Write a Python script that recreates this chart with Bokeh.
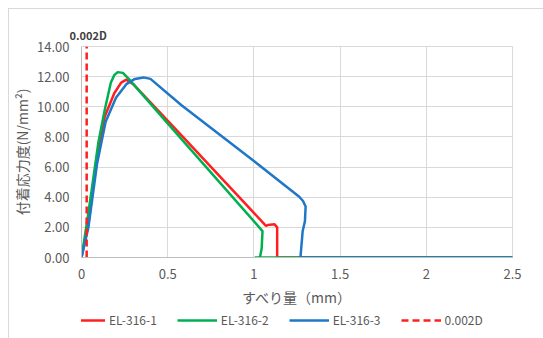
from bokeh.plotting import figure
from bokeh.layouts import column
from bokeh.models import FixedTicker, NumeralTickFormatter, Legend, LegendItem, Title
from bokeh.embed import file_html
from bokeh.resources import INLINE

# ---- data ----
x_ticks = [0, 0.5, 1, 1.5, 2, 2.5]
x_tick_labels = ["0", "0.5", "1", "1.5", "2", "2.5"]
y_ticks = [0, 2, 4, 6, 8, 10, 12, 14]

el1_x = [0, 0.04, 0.087, 0.135, 0.19, 0.23, 0.26, 0.30, 0.58, 1.07, 1.08, 1.12, 1.135, 1.135, 2.5]
el1_y = [0, 2.2, 6.5, 9.35, 10.9, 11.6, 11.8, 11.5, 8.1, 2.1, 2.15, 2.2, 2.0, 0, 0]

el2_x = [0, 0.03, 0.058, 0.098, 0.135, 0.17, 0.19, 0.21, 0.24, 0.27, 0.58, 1.05, 1.045, 1.035, 1.005, 2.5]
el2_y = [0, 2.2, 4.4, 7.65, 9.8, 11.6, 12.1, 12.3, 12.25, 11.9, 7.85, 1.75, 0.6, 0, 0, 0]

el3_x = [0, 0.04, 0.09, 0.14, 0.2, 0.26, 0.31, 0.36, 0.40, 0.58, 1.0, 1.263, 1.285, 1.30, 1.296, 1.283, 1.27, 2.5]
el3_y = [0, 2.0, 6.2, 9.0, 10.6, 11.5, 11.85, 11.95, 11.85, 10.1, 6.4, 4.03, 3.75, 3.38, 2.4, 1.76, 0, 0]

d_x = [0.03, 0.03]
d_y = [0, 14]

series_names = ["EL-316-1", "EL-316-2", "EL-316-3", "0.002D"]
series_colors = ["#ff1f1f", "#00b050", "#1f77c8", "#ff1f1f"]
series_dash = ["solid", "solid", "solid", "7 4"]
x_label = "すべり量（mm）"
y_label = "付着応力度(N/mm²)"

JP = "Noto Sans CJK JP"
TXT = "#595959"
GRID = "#d9d9d9"

p = figure(width=534, height=300, x_range=(0, 2.5), y_range=(0, 14),
           output_backend="svg", toolbar_location=None,
           min_border_left=71, min_border_right=31, min_border_top=37, min_border_bottom=49)
p.background_fill_color = "white"
p.border_fill_color = "white"
p.outline_line_color = GRID

p.xaxis.ticker = FixedTicker(ticks=x_ticks)
p.xaxis.major_label_overrides = {t: l for t, l in zip(x_ticks, x_tick_labels)}
p.yaxis.ticker = FixedTicker(ticks=y_ticks)
p.yaxis.formatter = NumeralTickFormatter(format="0.00")
p.xgrid.ticker = FixedTicker(ticks=x_ticks)
p.ygrid.ticker = FixedTicker(ticks=y_ticks)
p.grid.grid_line_color = GRID
p.grid.grid_line_width = 1

for ax in (p.xaxis, p.yaxis):
    ax.major_tick_line_color = None
    ax.minor_tick_line_color = None
    ax.axis_line_color = "#bfbfbf"
    ax.major_label_text_color = TXT
    ax.major_label_text_font = JP
    ax.major_label_text_font_size = "13px"
    ax.axis_label_text_color = TXT
    ax.axis_label_text_font = JP
    ax.axis_label_text_font_size = "14px"
    ax.axis_label_text_font_style = "normal"

p.xaxis.axis_label = x_label
p.yaxis.axis_label = y_label
p.xaxis.major_label_standoff = 5
p.xaxis.axis_label_standoff = 5
p.yaxis.major_label_standoff = 6
p.yaxis.axis_label_standoff = 2

xs = [el1_x, el2_x, el3_x, d_x]
ys = [el1_y, el2_y, el3_y, d_y]
for i in range(4):
    p.line(xs[i], ys[i], line_color=series_colors[i], line_width=2.5, line_dash=series_dash[i])

t = Title(text=series_names[3], align="left", offset=-12, standoff=8,
          text_font=JP, text_font_size="11px", text_font_style="bold", text_color="#404040")
p.add_layout(t, "above")

# legend strip below the chart (series drawn outside its view; only the legend shows)
lf = figure(width=534, height=29, x_range=(100, 101), y_range=(100, 101),
            output_backend="svg", toolbar_location=None,
            x_axis_type=None, y_axis_type=None,
            min_border_left=0, min_border_right=0, min_border_top=0, min_border_bottom=0)
lf.outline_line_color = None
lf.grid.visible = False
lf.background_fill_color = "white"
lf.border_fill_color = "white"
items = []
for i in range(4):
    r = lf.line(xs[i], ys[i], line_color=series_colors[i], line_width=2.5, line_dash=series_dash[i])
    items.append(LegendItem(label=series_names[i], renderers=[r]))
legend = Legend(items=items, orientation="horizontal", location=(-16, 10),
                label_text_font=JP, label_text_font_size="12px", label_text_color=TXT,
                glyph_width=40, glyph_height=12, spacing=20, padding=0, margin=0,
                border_line_color=None, background_fill_alpha=0, label_standoff=4)
lf.add_layout(legend, "center")

layout = column(p, lf, spacing=0)
layout.styles = {"margin-left": "8px", "margin-top": "8px",
                 "border-top": "1px solid #d9d9d9", "border-left": "1px solid #d9d9d9"}

open("out.html", "w").write(file_html(layout, INLINE))
